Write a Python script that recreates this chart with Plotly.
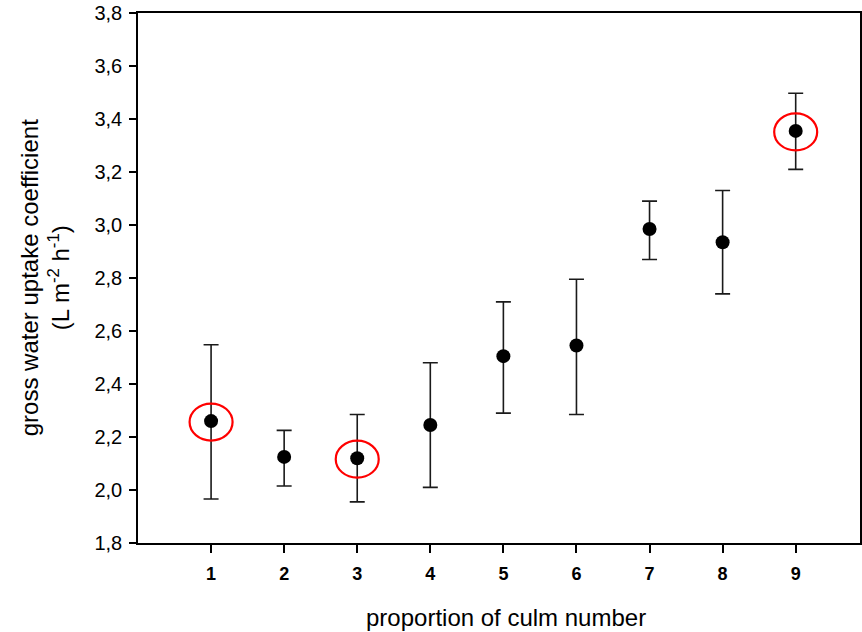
import plotly.graph_objects as go

# Data
categories = [1, 2, 3, 4, 5, 6, 7, 8, 9]
means = [2.26, 2.125, 2.12, 2.245, 2.505, 2.545, 2.985, 2.935, 3.355]
upper = [2.548, 2.225, 2.285, 2.48, 2.71, 2.795, 3.09, 3.13, 3.497]
lower = [1.966, 2.015, 1.955, 2.01, 2.29, 2.285, 2.87, 2.74, 3.21]
highlighted = [1, 3, 9]
y_ticks = [1.8, 2.0, 2.2, 2.4, 2.6, 2.8, 3.0, 3.2, 3.4, 3.6, 3.8]

err_plus = [u - m for u, m in zip(upper, means)]
err_minus = [m - l for m, l in zip(means, lower)]

FONT = "Liberation Sans, Arial, sans-serif"

fig = go.Figure()
fig.add_trace(go.Scatter(
    x=categories, y=means, mode="markers",
    marker=dict(color="black", size=14, symbol="circle"),
    error_y=dict(type="data", symmetric=False, array=err_plus, arrayminus=err_minus,
                 color="#1a1a1a", thickness=1.6, width=7.5),
    showlegend=False, hoverinfo="skip",
))

# red ellipses around highlighted points
for c in highlighted:
    i = categories.index(c)
    fig.add_shape(type="circle", xref="x", yref="y",
                  xsizemode="pixel", ysizemode="pixel",
                  xanchor=categories[i], yanchor=means[i],
                  x0=-21.5, x1=21.5, y0=-19.5, y1=17.5,
                  line=dict(color="#ff0000", width=2.2))

fig.update_layout(
    width=862, height=632,
    margin=dict(l=138, r=0, t=13, b=89),
    paper_bgcolor="white", plot_bgcolor="white",
    separators=",.",
    font=dict(family=FONT, color="black"),
    xaxis=dict(range=[0, 9.88], tickvals=categories, ticktext=[f"<b>{c}</b>" for c in categories],
               showgrid=False, zeroline=False, showline=True, linecolor="black", linewidth=1.5,
               mirror=True, ticks="outside", ticklen=8, tickwidth=1.5, tickcolor="black",
               tickfont=dict(size=18, family=FONT), ticklabelstandoff=6),
    yaxis=dict(range=[1.8, 3.8], tickvals=y_ticks, tickformat=".1f",
               showgrid=False, zeroline=False, showline=True, linecolor="black", linewidth=1.5,
               mirror=True, ticks="outside", ticklen=7, tickwidth=1.5, tickcolor="black",
               tickfont=dict(size=20, family=FONT), ticklabelstandoff=3),
)

fig.add_annotation(xref="paper", yref="paper", x=(45 - 138) / 724, y=0.5,
                   xanchor="center", yanchor="middle", textangle=-90, showarrow=False,
                   text="gross water uptake coefficient<br>(L m<sup>-2</sup> h<sup>-1</sup>)",
                   font=dict(size=24, family=FONT))
fig.add_annotation(xref="paper", yref="paper", x=(507 - 138) / 724, y=-(617 - 543) / 530,
                   xanchor="center", yanchor="middle", showarrow=False,
                   text="proportion of culm number", font=dict(size=24, family=FONT))

fig.write_html("out.html")
